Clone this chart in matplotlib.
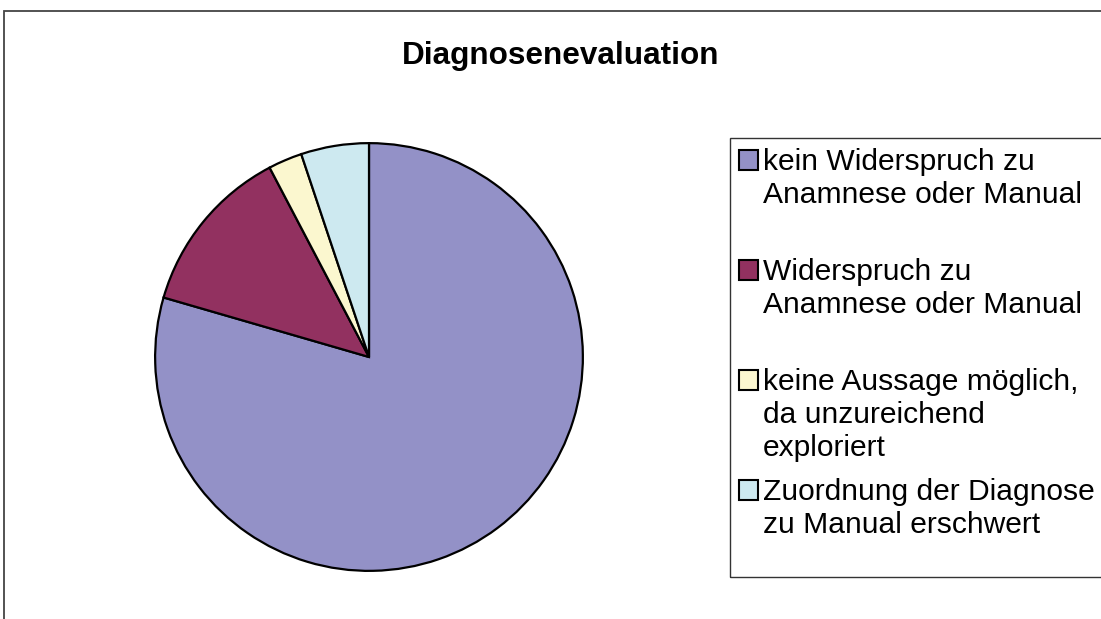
import matplotlib.pyplot as plt
from matplotlib.patches import Rectangle

plt.rcParams['font.family'] = ['Liberation Sans', 'DejaVu Sans']

# data (counts)
labels = [
    'kein Widerspruch zu\nAnamnese oder Manual',
    'Widerspruch zu\nAnamnese oder Manual',
    'keine Aussage möglich,\nda unzureichend\nexploriert',
    'Zuordnung der Diagnose\nzu Manual erschwert',
]
values = [31, 5, 1, 2]
colors = ['#9391C7', '#923160', '#FBF7CF', '#CDE9F0']

W, H = 1101, 619
fig = plt.figure(figsize=(W / 100, H / 100), dpi=100)


def fx(px):
    return px / W


def fy(py):
    return 1 - py / H


# outer chart frame (runs off the right and bottom edges)
fig.patches.append(Rectangle((fx(4), fy(640)), fx(1120), fy(11) - fy(640),
                             transform=fig.transFigure, fill=False,
                             edgecolor='#444444', linewidth=1.3))

fig.text(fx(561), fy(56), 'Diagnosenevaluation', ha='center', va='center',
         fontsize=22.7, fontweight='bold')

# pie
ax = fig.add_axes([fx(153), fy(573), fx(432), 432 / H])
ax.pie(values, colors=colors, startangle=90, counterclock=False, radius=1,
       wedgeprops=dict(edgecolor='black', linewidth=1.6))
ax.set_xlim(-1.01, 1.01)
ax.set_ylim(-1.01, 1.01)
ax.set_aspect('equal')
ax.axis('off')

# legend box
fig.patches.append(Rectangle((fx(730), fy(577)), fx(500), fy(138) - fy(577),
                             transform=fig.transFigure, fill=False,
                             edgecolor='#333333', linewidth=1.0))

for i, (lab, col) in enumerate(zip(labels, colors)):
    cap_top = 150 + 110 * i
    fig.patches.append(Rectangle((fx(739), fy(cap_top + 20)), fx(19), fy(cap_top) - fy(cap_top + 20),
                                 transform=fig.transFigure, facecolor=col,
                                 edgecolor='black', linewidth=1.5))
    fig.text(fx(763), fy(cap_top - 2), lab, ha='left', va='top',
             fontsize=21.6, linespacing=1.22)

fig.savefig('out.png', dpi=100)
